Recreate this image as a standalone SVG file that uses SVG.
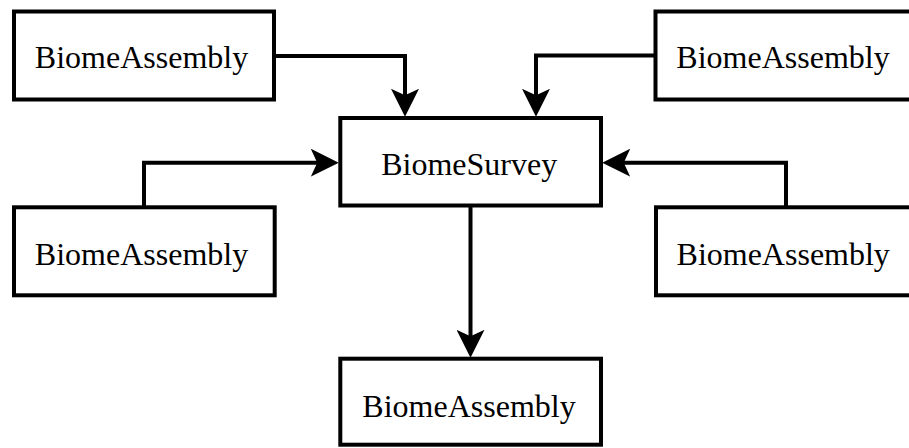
<svg xmlns="http://www.w3.org/2000/svg" width="909" height="448" viewBox="0 0 909 448">
  <defs>
    <style>
      .box { fill: #ffffff; stroke: #000000; stroke-width: 4; }
      .label { font-family: "Liberation Serif", "Times New Roman", serif; font-size: 32px; fill: #000000; text-anchor: middle; }
      .edge { fill: none; stroke: #000000; stroke-width: 4; marker-end: url(#arrow); }
    </style>
    <marker id="arrow" markerUnits="userSpaceOnUse" markerWidth="28" markerHeight="28" viewBox="0 0 26 26" refX="16" refY="13" orient="auto">
      <path d="M0,0 L26,13 L0,26 L6,13 Z" fill="#000000"/>
    </marker>
  </defs>

  <rect width="909" height="448" fill="#ffffff"/>

  <g id="connectors">
    <path class="edge" d="M274,56 H405 V106"/>
    <path class="edge" d="M655.5,55.5 H536 V106"/>
    <path class="edge" d="M144,207.3 V162.7 H328"/>
    <path class="edge" d="M786,207.3 V162.7 H613"/>
    <path class="edge" d="M470.5,205.5 V347"/>
  </g>

  <g id="survey">
    <rect class="box" x="340.3" y="118" width="260.7" height="87.5"/>
    <text class="label" x="469.2" y="175">BiomeSurvey</text>
  </g>

  <g id="assembly-top-left">
    <rect class="box" x="14" y="11.5" width="260" height="88"/>
    <text class="label" x="141.5" y="68.3">BiomeAssembly</text>
  </g>

  <g id="assembly-top-right">
    <rect class="box" x="655.5" y="11.5" width="260" height="88"/>
    <text class="label" x="783" y="68.3">BiomeAssembly</text>
  </g>

  <g id="assembly-mid-left">
    <rect class="box" x="14" y="207.3" width="260.7" height="88"/>
    <text class="label" x="141.5" y="265">BiomeAssembly</text>
  </g>

  <g id="assembly-mid-right">
    <rect class="box" x="656" y="207.3" width="260" height="88"/>
    <text class="label" x="783.2" y="265">BiomeAssembly</text>
  </g>

  <g id="assembly-bottom">
    <rect class="box" x="340.3" y="358.7" width="260.7" height="86"/>
    <text class="label" x="469" y="417.3">BiomeAssembly</text>
  </g>
</svg>
